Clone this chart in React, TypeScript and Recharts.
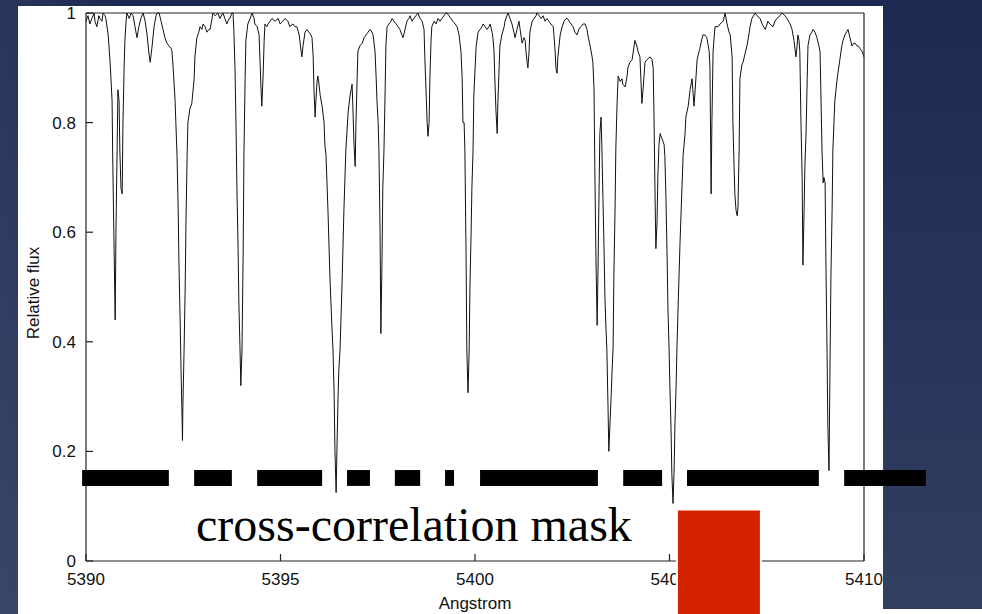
import { LineChart, Line, XAxis, YAxis, ReferenceArea } from 'recharts';

// Normalised spectrum, [wavelength in Angstrom, relative flux]
const spectrum: [number, number][] = [
  [5390.00, 0.985], [5390.05, 0.995], [5390.10, 0.98], [5390.15, 0.99], [5390.21, 1.0], [5390.23, 0.985],
  [5390.28, 0.975], [5390.33, 0.995], [5390.36, 0.99], [5390.41, 0.985], [5390.44, 1.0], [5390.49, 0.995],
  [5390.51, 0.99], [5390.57, 0.96], [5390.62, 0.91], [5390.67, 0.84], [5390.69, 0.72], [5390.72, 0.58],
  [5390.75, 0.44], [5390.77, 0.6], [5390.80, 0.75], [5390.82, 0.86], [5390.85, 0.84], [5390.87, 0.75],
  [5390.90, 0.68], [5390.93, 0.67], [5390.95, 0.8], [5390.98, 0.9], [5391.00, 0.95], [5391.03, 0.985],
  [5391.05, 1.0], [5391.11, 0.99], [5391.16, 1.0], [5391.21, 0.995], [5391.26, 0.975], [5391.31, 0.955],
  [5391.36, 0.975], [5391.41, 0.99], [5391.47, 1.0], [5391.52, 0.985], [5391.57, 0.96], [5391.62, 0.925],
  [5391.65, 0.91], [5391.70, 0.94], [5391.75, 0.975], [5391.80, 0.995], [5391.83, 1.0], [5391.88, 1.0],
  [5391.93, 0.985], [5391.98, 0.97], [5392.03, 0.955], [5392.08, 0.945], [5392.13, 0.94], [5392.19, 0.935],
  [5392.21, 0.93], [5392.24, 0.9], [5392.29, 0.84], [5392.31, 0.8], [5392.34, 0.74], [5392.37, 0.64],
  [5392.39, 0.54], [5392.42, 0.44], [5392.44, 0.36], [5392.47, 0.26], [5392.48, 0.22], [5392.49, 0.28],
  [5392.52, 0.38], [5392.55, 0.5], [5392.57, 0.62], [5392.60, 0.74], [5392.62, 0.8], [5392.67, 0.825],
  [5392.72, 0.835], [5392.78, 0.88], [5392.80, 0.92], [5392.85, 0.955], [5392.90, 0.965], [5392.93, 0.975],
  [5392.98, 0.97], [5393.01, 0.98], [5393.06, 0.975], [5393.11, 0.965], [5393.16, 0.97], [5393.19, 0.97],
  [5393.24, 0.99], [5393.26, 1.0], [5393.32, 0.995], [5393.39, 1.0], [5393.44, 0.99], [5393.52, 1.0],
  [5393.57, 0.99], [5393.62, 0.98], [5393.68, 0.99], [5393.70, 0.99], [5393.75, 1.0], [5393.78, 1.0],
  [5393.80, 0.97], [5393.83, 0.9], [5393.86, 0.78], [5393.88, 0.68], [5393.91, 0.57], [5393.93, 0.47],
  [5393.96, 0.385], [5393.98, 0.32], [5394.01, 0.385], [5394.04, 0.56], [5394.06, 0.74], [5394.09, 0.88],
  [5394.11, 0.95], [5394.16, 0.98], [5394.22, 0.99], [5394.27, 1.0], [5394.32, 0.99], [5394.34, 0.98],
  [5394.40, 0.975], [5394.45, 0.96], [5394.47, 0.92], [5394.50, 0.86], [5394.52, 0.83], [5394.55, 0.88],
  [5394.58, 0.95], [5394.60, 0.98], [5394.65, 0.975], [5394.68, 0.98], [5394.73, 0.985], [5394.78, 0.99],
  [5394.86, 0.985], [5394.94, 0.99], [5394.99, 0.98], [5395.06, 0.985], [5395.12, 0.99], [5395.19, 0.985],
  [5395.24, 0.975], [5395.32, 0.98], [5395.37, 0.975], [5395.42, 0.975], [5395.48, 0.96], [5395.53, 0.93],
  [5395.55, 0.92], [5395.58, 0.94], [5395.63, 0.965], [5395.68, 0.97], [5395.73, 0.965], [5395.78, 0.96],
  [5395.81, 0.955], [5395.84, 0.92], [5395.86, 0.86], [5395.89, 0.81], [5395.91, 0.84], [5395.94, 0.875],
  [5395.96, 0.885], [5395.99, 0.87], [5396.02, 0.85], [5396.07, 0.83], [5396.12, 0.8], [5396.14, 0.76],
  [5396.17, 0.74], [5396.22, 0.64], [5396.27, 0.52], [5396.32, 0.43], [5396.35, 0.385], [5396.38, 0.3],
  [5396.40, 0.2], [5396.43, 0.125], [5396.45, 0.2], [5396.48, 0.3], [5396.50, 0.35], [5396.53, 0.385],
  [5396.58, 0.5], [5396.63, 0.64], [5396.68, 0.75], [5396.74, 0.82], [5396.79, 0.85], [5396.84, 0.87],
  [5396.86, 0.83], [5396.89, 0.76], [5396.92, 0.72], [5396.94, 0.8], [5396.97, 0.88], [5396.99, 0.93],
  [5397.04, 0.94], [5397.10, 0.945], [5397.15, 0.955], [5397.20, 0.96], [5397.25, 0.965], [5397.30, 0.97],
  [5397.35, 0.965], [5397.38, 0.96], [5397.43, 0.93], [5397.46, 0.88], [5397.48, 0.84], [5397.51, 0.8],
  [5397.53, 0.75], [5397.56, 0.6], [5397.58, 0.415], [5397.61, 0.55], [5397.63, 0.68], [5397.66, 0.75],
  [5397.69, 0.86], [5397.71, 0.94], [5397.74, 0.975], [5397.79, 0.98], [5397.84, 0.985], [5397.87, 0.99],
  [5397.92, 0.985], [5397.97, 0.98], [5398.02, 0.975], [5398.07, 0.97], [5398.12, 0.96], [5398.15, 0.955],
  [5398.20, 0.97], [5398.25, 0.985], [5398.30, 0.99], [5398.33, 0.995], [5398.38, 0.985], [5398.43, 0.99],
  [5398.48, 0.995], [5398.53, 1.0], [5398.59, 0.99], [5398.64, 0.985], [5398.69, 0.97], [5398.71, 0.92],
  [5398.74, 0.86], [5398.77, 0.8], [5398.79, 0.775], [5398.82, 0.8], [5398.84, 0.88], [5398.87, 0.95],
  [5398.89, 0.975], [5398.95, 0.985], [5399.00, 0.98], [5399.05, 0.99], [5399.10, 0.985], [5399.15, 0.99],
  [5399.20, 0.995], [5399.25, 1.0], [5399.28, 1.0], [5399.33, 0.995], [5399.38, 0.99], [5399.43, 0.985],
  [5399.49, 0.98], [5399.54, 0.975], [5399.59, 0.96], [5399.64, 0.93], [5399.67, 0.88], [5399.69, 0.8],
  [5399.72, 0.8], [5399.74, 0.75], [5399.77, 0.56], [5399.79, 0.385], [5399.82, 0.307], [5399.85, 0.385],
  [5399.87, 0.5], [5399.90, 0.6], [5399.92, 0.68], [5399.95, 0.75], [5399.97, 0.85], [5400.03, 0.94],
  [5400.08, 0.965], [5400.13, 0.97], [5400.18, 0.975], [5400.21, 0.98], [5400.26, 0.975], [5400.31, 0.97],
  [5400.36, 0.975], [5400.39, 0.98], [5400.44, 0.965], [5400.46, 0.955], [5400.49, 0.93], [5400.51, 0.88],
  [5400.54, 0.82], [5400.57, 0.78], [5400.59, 0.84], [5400.62, 0.9], [5400.64, 0.94], [5400.69, 0.96],
  [5400.75, 0.975], [5400.77, 0.985], [5400.82, 0.995], [5400.85, 1.0], [5400.90, 0.99], [5400.95, 0.98],
  [5401.00, 0.965], [5401.03, 0.955], [5401.08, 0.97], [5401.13, 0.985], [5401.16, 0.97], [5401.21, 0.945],
  [5401.26, 0.955], [5401.29, 0.95], [5401.31, 0.93], [5401.34, 0.91], [5401.36, 0.9], [5401.39, 0.93],
  [5401.41, 0.965], [5401.47, 0.985], [5401.52, 0.99], [5401.57, 0.995], [5401.59, 1.0], [5401.65, 0.995],
  [5401.70, 0.99], [5401.75, 0.995], [5401.80, 0.985], [5401.85, 0.99], [5401.90, 0.985], [5401.95, 0.98],
  [5402.01, 0.975], [5402.03, 0.96], [5402.06, 0.93], [5402.08, 0.9], [5402.11, 0.89], [5402.13, 0.92],
  [5402.19, 0.96], [5402.24, 0.975], [5402.29, 0.985], [5402.34, 0.99], [5402.37, 0.99], [5402.42, 0.985],
  [5402.47, 0.98], [5402.52, 0.975], [5402.57, 0.965], [5402.62, 0.96], [5402.67, 0.97], [5402.72, 0.975],
  [5402.78, 0.98], [5402.83, 0.98], [5402.88, 0.97], [5402.90, 0.96], [5402.96, 0.94], [5403.01, 0.92],
  [5403.03, 0.91], [5403.06, 0.86], [5403.08, 0.72], [5403.11, 0.55], [5403.14, 0.43], [5403.16, 0.52],
  [5403.19, 0.68], [5403.21, 0.78], [5403.24, 0.81], [5403.26, 0.76], [5403.29, 0.66], [5403.32, 0.56],
  [5403.34, 0.48], [5403.37, 0.42], [5403.39, 0.385], [5403.42, 0.28], [5403.44, 0.2], [5403.47, 0.25],
  [5403.50, 0.3], [5403.52, 0.34], [5403.55, 0.39], [5403.57, 0.52], [5403.60, 0.64], [5403.62, 0.75],
  [5403.65, 0.83], [5403.68, 0.885], [5403.73, 0.875], [5403.78, 0.88], [5403.80, 0.87], [5403.86, 0.865],
  [5403.91, 0.885], [5403.93, 0.9], [5403.98, 0.91], [5404.04, 0.915], [5404.09, 0.94], [5404.11, 0.95],
  [5404.16, 0.94], [5404.19, 0.93], [5404.24, 0.92], [5404.27, 0.87], [5404.29, 0.835], [5404.32, 0.86],
  [5404.37, 0.91], [5404.42, 0.915], [5404.50, 0.92], [5404.55, 0.915], [5404.58, 0.9], [5404.60, 0.82],
  [5404.63, 0.66], [5404.65, 0.57], [5404.68, 0.62], [5404.70, 0.7], [5404.73, 0.76], [5404.76, 0.78],
  [5404.81, 0.77], [5404.86, 0.76], [5404.88, 0.74], [5404.91, 0.66], [5404.94, 0.55], [5404.96, 0.46],
  [5404.99, 0.385], [5405.01, 0.32], [5405.04, 0.24], [5405.06, 0.16], [5405.09, 0.105], [5405.12, 0.17],
  [5405.14, 0.25], [5405.17, 0.32], [5405.19, 0.385], [5405.22, 0.46], [5405.27, 0.58], [5405.32, 0.68],
  [5405.35, 0.74], [5405.40, 0.78], [5405.42, 0.81], [5405.48, 0.83], [5405.53, 0.86], [5405.58, 0.88],
  [5405.60, 0.86], [5405.63, 0.83], [5405.66, 0.86], [5405.71, 0.915], [5405.76, 0.93], [5405.78, 0.935],
  [5405.84, 0.955], [5405.86, 0.96], [5405.91, 0.96], [5405.96, 0.955], [5406.02, 0.93], [5406.04, 0.9],
  [5406.07, 0.67], [5406.09, 0.8], [5406.12, 0.93], [5406.17, 0.975], [5406.22, 0.975], [5406.25, 0.975],
  [5406.30, 0.98], [5406.38, 0.985], [5406.43, 1.0], [5406.48, 0.98], [5406.53, 0.965], [5406.56, 0.96],
  [5406.61, 0.92], [5406.63, 0.8], [5406.66, 0.72], [5406.68, 0.67], [5406.71, 0.64], [5406.74, 0.63],
  [5406.76, 0.645], [5406.79, 0.75], [5406.81, 0.88], [5406.86, 0.905], [5406.89, 0.91], [5406.94, 0.925],
  [5406.99, 0.94], [5407.04, 0.96], [5407.07, 0.975], [5407.12, 0.99], [5407.20, 1.0], [5407.25, 0.995],
  [5407.33, 0.99], [5407.38, 0.98], [5407.46, 0.97], [5407.51, 0.98], [5407.53, 0.985], [5407.58, 0.98],
  [5407.66, 0.975], [5407.71, 0.985], [5407.76, 0.99], [5407.84, 0.995], [5407.89, 1.0], [5407.97, 0.995],
  [5408.02, 0.99], [5408.10, 0.98], [5408.15, 0.97], [5408.20, 0.95], [5408.25, 0.92], [5408.28, 0.94],
  [5408.30, 0.96], [5408.33, 0.95], [5408.35, 0.93], [5408.38, 0.8], [5408.41, 0.7], [5408.43, 0.54],
  [5408.46, 0.64], [5408.48, 0.72], [5408.51, 0.78], [5408.54, 0.88], [5408.56, 0.94], [5408.61, 0.96],
  [5408.66, 0.965], [5408.69, 0.97], [5408.74, 0.965], [5408.79, 0.955], [5408.84, 0.94], [5408.87, 0.93],
  [5408.89, 0.86], [5408.92, 0.75], [5408.95, 0.69], [5408.97, 0.7], [5409.00, 0.69], [5409.02, 0.55],
  [5409.05, 0.385], [5409.07, 0.25], [5409.10, 0.165], [5409.13, 0.385], [5409.15, 0.52], [5409.18, 0.64],
  [5409.20, 0.75], [5409.25, 0.84], [5409.31, 0.88], [5409.33, 0.89], [5409.38, 0.915], [5409.43, 0.94],
  [5409.46, 0.95], [5409.51, 0.96], [5409.59, 0.97], [5409.64, 0.955], [5409.69, 0.94], [5409.74, 0.945],
  [5409.77, 0.945], [5409.82, 0.94], [5409.85, 0.94], [5409.90, 0.935], [5409.95, 0.93], [5410.00, 0.92],
];

// Wavelength windows of the cross-correlation mask
const maskSegments: [number, number][] = [
  [5389.9, 5392.13], [5392.78, 5393.75], [5394.4, 5396.07], [5396.71, 5397.3], [5397.94, 5398.59],
  [5399.23, 5399.46], [5400.13, 5403.16], [5403.81, 5404.81], [5405.45, 5408.84], [5409.49, 5411.59],
];
const maskFlux: [number, number] = [0.137, 0.166];

// Window highlighted in red
const highlightAngstrom: [number, number] = [5405.19, 5407.35];
const highlightFlux: [number, number] = [-0.1, 0.094];

const xTicks = [5390, 5395, 5400, 5405, 5410];
const yTicks = [0, 0.2, 0.4, 0.6, 0.8, 1];

const rows = spectrum.map(([angstrom, flux]) => ({ angstrom, flux }));

const sans = '"Liberation Sans", Arial, Helvetica, sans-serif';
const tickStyle = { fill: '#111', fontSize: 17, fontFamily: sans };

export default function App() {
  return (
    <div
      style={{
        position: 'fixed',
        left: 0,
        top: 0,
        width: 982,
        height: 614,
        overflow: 'hidden',
        background: 'linear-gradient(180deg, #1c2a51 0%, #26335a 45%, #333f60 100%)',
      }}
    >
      <div style={{ position: 'absolute', left: 0, top: 0, width: 120, height: 614, background: 'linear-gradient(90deg, rgba(80,90,120,0.25), rgba(80,90,120,0))' }} />
      <div style={{ position: 'absolute', left: 18, top: 6, width: 865, height: 608, background: '#fff' }} />
      <div style={{ position: 'absolute', left: 883, top: 609, width: 99, height: 5, background: '#fff' }} />

      <div style={{ position: 'absolute', left: 0, top: 0 }}>
        <LineChart
          width={982}
          height={614}
          data={rows}
          margin={{ top: 12, right: 117, bottom: 23, left: 26 }}
          style={{ fontFamily: sans }}
        >
          <XAxis
            dataKey="angstrom"
            type="number"
            domain={[5390, 5410]}
            ticks={xTicks}
            interval={0}
            height={30}
            tickSize={-7}
            tickMargin={19}
            stroke="#222"
            strokeWidth={1.2}
            tick={tickStyle}
            label={{ value: 'Angstrom', position: 'insideBottom', offset: -18, fill: '#111', fontSize: 17 }}
          />
          <XAxis
            xAxisId="top"
            orientation="top"
            type="number"
            domain={[5390, 5410]}
            ticks={xTicks}
            interval={0}
            height={1}
            tickSize={-7}
            stroke="#222"
            strokeWidth={1.2}
            tickFormatter={() => ''}
          />
          <YAxis
            type="number"
            domain={[0, 1]}
            ticks={yTicks}
            interval={0}
            width={60}
            tickSize={-7}
            tickMargin={17}
            stroke="#222"
            strokeWidth={1.2}
            tick={tickStyle}
            tickFormatter={(v: number) => String(v)}
          />
          <YAxis
            yAxisId="right"
            orientation="right"
            type="number"
            domain={[0, 1]}
            ticks={yTicks}
            interval={0}
            width={1}
            tickSize={-7}
            stroke="#222"
            strokeWidth={1.2}
            tickFormatter={() => ''}
          />
          <Line
            dataKey="flux"
            type="linear"
            dot={false}
            activeDot={false}
            stroke="#111"
            strokeWidth={1}
            isAnimationActive={false}
          />
          {maskSegments.map(([from, to]) => (
            <ReferenceArea
              key={from}
              x1={from}
              x2={to}
              y1={maskFlux[0]}
              y2={maskFlux[1]}
              fill="#000"
              fillOpacity={1}
              stroke="none"
              ifOverflow="visible"
              zIndex={1500}
            />
          ))}
          <ReferenceArea
            x1={highlightAngstrom[0]}
            x2={highlightAngstrom[1]}
            y1={highlightFlux[0]}
            y2={highlightFlux[1]}
            fill="#d52200"
            fillOpacity={1}
            stroke="#fff"
            strokeWidth={2}
            ifOverflow="visible"
            zIndex={2500}
          />
        </LineChart>
      </div>

      <div
        style={{
          position: 'absolute',
          left: 32.5,
          top: 293,
          transform: 'translate(-50%, -50%) rotate(-90deg)',
          fontFamily: sans,
          fontSize: 17,
          lineHeight: '17px',
          color: '#111',
          whiteSpace: 'nowrap',
        }}
      >
        Relative flux
      </div>

      <div
        style={{
          position: 'absolute',
          left: 196,
          top: 501,
          fontFamily: '"Liberation Serif", "Times New Roman", serif',
          fontSize: 48,
          lineHeight: '48px',
          color: '#000',
          whiteSpace: 'nowrap',
        }}
      >
        cross-correlation mask
      </div>
    </div>
  );
}
